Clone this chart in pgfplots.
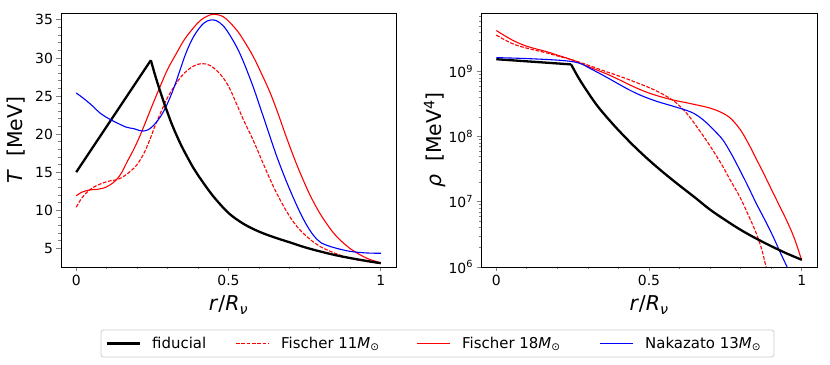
\documentclass[border=0pt]{standalone}
\usepackage{fontspec}
\setmainfont{DejaVu Sans}
\usepackage{pgfplots}
\pgfplotsset{compat=1.18}

\tikzset{
  fid/.style={color=black, line width=2.3bp},
  f11/.style={color=red, line width=1.1bp, dash pattern=on 3.7bp off 1.6bp},
  f18/.style={color=red, line width=1.1bp},
  nak/.style={color=blue, line width=1.1bp},
  legtext/.style={anchor=base west, inner sep=0pt, font=\fontsize{15}{17}\selectfont},
}
\pgfplotsset{panel/.style={
  width=335bp, height=254bp, scale only axis,
  xmin=-0.05, xmax=1.05, xtick={0,0.5,1}, minor x tick num=4,
  tick pos=left, tick align=outside,
  major tick length=4.5bp, minor tick length=2.5bp,
  every tick/.append style={line width=0.8bp},
  axis line style={line width=0.8bp},
  tick label style={font=\fontsize{14}{16}\selectfont},
  label style={font=\fontsize{20.5}{24}\selectfont},
  /pgf/number format/assume math mode=true,
  xlabel={\textit{r}/\textit{R}\textsubscript{\textit{ν}}},
  xlabel style={at={(axis description cs:0.5,-0.15)}, anchor=center},
  ylabel style={at={(axis description cs:-0.134,0.5)}, anchor=center},
}}

\begin{document}
\begin{tikzpicture}
\begin{axis}[panel, at={(61bp,98bp)}, anchor=south west,
  ymin=2.55, ymax=35.9, ytick={5,10,...,35}, minor y tick num=4,
  ylabel={\textit{T}~~[MeV]}]
  \addplot[fid] coordinates {(0,15.0)(0.245,29.7)};
  \addplot[f11, smooth, tension=0.6] coordinates {
    (0,10.4)(0.02,11.7)(0.045,12.7)(0.065,13.2)(0.089,13.6)(0.11,13.85)(0.132,14.0)
    (0.15,14.3)(0.165,14.7)(0.18,15.2)(0.198,15.9)(0.22,17.3)(0.24,19.1)(0.26,21.2)
    (0.275,22.6)(0.3,24.8)(0.329,26.7)(0.355,28.0)(0.384,28.9)(0.411,29.25)(0.44,29.0)
    (0.472,27.9)(0.5,26.3)(0.526,24.0)(0.55,21.8)(0.581,19.2)(0.61,16.5)(0.636,14.1)
    (0.66,12.1)(0.69,9.9)(0.72,8.1)(0.75,6.8)(0.78,5.8)(0.8,5.25)(0.85,4.35)(0.9,3.7)
    (0.95,3.3)(1,3.0)};
  \addplot[f18, smooth, tension=0.6] coordinates {
    (0,11.9)(0.02,12.4)(0.045,12.67)(0.07,12.75)(0.089,12.9)(0.11,13.3)(0.132,14.0)
    (0.15,15.0)(0.165,16.2)(0.185,17.7)(0.203,19.2)(0.225,21.3)(0.25,23.8)(0.275,26.2)
    (0.3,28.5)(0.329,30.6)(0.355,32.4)(0.384,33.9)(0.41,35.0)(0.444,35.7)(0.472,35.6)
    (0.493,35.1)(0.526,33.7)(0.55,32.3)(0.581,30.2)(0.61,27.8)(0.636,25.5)(0.66,23.0)
    (0.69,19.6)(0.72,16.4)(0.745,14.0)(0.77,11.8)(0.8,9.6)(0.83,7.8)(0.854,6.6)
    (0.88,5.6)(0.9,4.95)(0.93,4.2)(0.96,3.6)(1,3.1)};
  \addplot[nak, smooth, tension=0.6] coordinates {
    (0,25.4)(0.03,24.5)(0.056,23.6)(0.08,22.7)(0.11,21.95)(0.14,21.35)(0.165,20.9)
    (0.19,20.7)(0.205,20.5)(0.218,20.4)(0.235,20.55)(0.253,21.1)(0.275,22.2)(0.296,23.7)
    (0.32,26.0)(0.34,28.3)(0.36,30.6)(0.384,32.7)(0.41,34.2)(0.43,34.85)(0.444,35.0)
    (0.46,34.9)(0.472,34.6)(0.493,33.7)(0.526,31.5)(0.55,29.4)(0.581,26.2)(0.61,22.8)
    (0.636,19.7)(0.66,16.9)(0.69,13.8)(0.72,11.0)(0.745,8.9)(0.77,7.2)(0.79,6.2)
    (0.805,5.7)(0.83,5.3)(0.86,4.95)(0.9,4.6)(0.95,4.4)(1,4.35)};
  % fiducial, decaying part
  \addplot[fid, smooth, tension=0.6] coordinates {
    (0.245,29.7)(0.26,27.6)(0.275,25.7)(0.29,23.9)(0.3,22.8)(0.313,21.4)
    (0.33,19.8)(0.35,18.1)(0.384,15.6)(0.4,14.6)(0.439,12.4)(0.47,10.9)(0.504,9.5)
    (0.55,8.2)(0.6,7.2)(0.65,6.45)(0.7,5.8)(0.75,5.15)(0.8,4.6)(0.85,4.12)(0.9,3.72)
    (0.95,3.37)(1,3.05)};
\end{axis}

\begin{axis}[panel, at={(481bp,98bp)}, anchor=south west, width=336bp,
  ymode=log, ymin=1e6, ymax=7.94e9,
  ytick={1e6,1e7,1e8,1e9},
  yticklabels={10\textsuperscript{6},10\textsuperscript{7},10\textsuperscript{8},10\textsuperscript{9}},
  minor ytick={2e6,3e6,4e6,5e6,6e6,7e6,8e6,9e6,2e7,3e7,4e7,5e7,6e7,7e7,8e7,9e7,
    2e8,3e8,4e8,5e8,6e8,7e8,8e8,9e8,2e9,3e9,4e9,5e9,6e9,7e9},
  ylabel={\textit{ρ}~~[MeV\textsuperscript{4}]},
  ylabel style={at={(axis description cs:-0.137,0.5)}}]
  \addplot[fid] coordinates {(0,1.55e9)(0.245,1.29e9)};
  \addplot[f11, smooth, tension=0.6] coordinates {
    (0,3.63e9)(0.0525,2.69e9)(0.1,2.29e9)(0.162,1.95e9)(0.2,1.74e9)(0.249,1.51e9)
    (0.3,1.26e9)(0.359,1.0e9)(0.4,8.61e8)(0.435,7.5e8)(0.468,6.53e8)(0.5,5.69e8)
    (0.534,4.79e8)(0.578,3.63e8)(0.605,2.82e8)(0.632,2.04e8)(0.66,1.35e8)(0.687,8.9e7)
    (0.715,5.6e7)(0.742,3.47e7)(0.77,2.0e7)(0.797,1.2e7)(0.825,6.3e6)(0.851,3.3e6)
    (0.87,1.8e6)(0.884,9.8e5)(0.9,6e5)};
  \addplot[f18, smooth, tension=0.6] coordinates {
    (0,4.27e9)(0.0525,3.05e9)(0.1,2.45e9)(0.162,2.04e9)(0.2,1.79e9)(0.249,1.51e9)
    (0.3,1.2e9)(0.359,9.3e8)(0.4,7.6e8)(0.435,6.3e8)(0.468,5.37e8)(0.5,4.68e8)
    (0.534,4.17e8)(0.578,3.67e8)(0.63,3.27e8)(0.7,2.75e8)(0.742,2.29e8)(0.77,1.86e8)
    (0.8,1.26e8)(0.825,7.94e7)(0.85,4.68e7)(0.875,2.75e7)(0.9,1.58e7)(0.925,9.12e6)
    (0.95,5.25e6)(0.975,2.82e6)(1,1.26e6)};
  \addplot[nak, smooth, tension=0.6] coordinates {
    (0,1.64e9)(0.107,1.58e9)(0.217,1.48e9)(0.271,1.35e9)(0.31,1.1e9)(0.359,8.3e8)
    (0.4,6.46e8)(0.435,5.25e8)(0.468,4.42e8)(0.5,3.85e8)(0.534,3.39e8)(0.578,2.95e8)
    (0.632,2.45e8)(0.66,2.09e8)(0.687,1.66e8)(0.715,1.23e8)(0.742,8.9e7)(0.77,5.4e7)
    (0.797,3.1e7)(0.825,1.7e7)(0.851,9.5e6)(0.88,5.2e6)(0.906,2.95e6)(0.93,1.66e6)
    (0.953,9.8e5)(0.97,6.5e5)};
  \addplot[fid, smooth, tension=0.6] coordinates {
    (0.245,1.29e9)(0.27,7.94e8)(0.3,4.79e8)(0.33,3.02e8)(0.36,2.04e8)(0.4,1.26e8)
    (0.45,7.24e7)(0.5,4.37e7)(0.55,2.75e7)(0.6,1.78e7)(0.65,1.17e7)(0.7,7.59e6)
    (0.75,5.25e6)(0.8,3.72e6)(0.85,2.75e6)(0.9,2.09e6)(0.95,1.62e6)(1,1.29e6)};
\end{axis}

% legend below both panels: frame, then sample lines in a hidden axis in bp units
\draw[black!20, line width=0.8bp, rounded corners=2.5bp, fill=white]
  (101bp,8bp) rectangle (774bp,35bp);
\begin{axis}[at={(0bp,0bp)}, anchor=south west, width=830bp, height=365bp,
  scale only axis, hide axis, clip=false, xmin=0, xmax=830, ymin=0, ymax=365]
  \addplot[fid] coordinates {(107,21.5)(140,21.5)};
  \addplot[f11] coordinates {(236,21.5)(269,21.5)};
  \addplot[f18] coordinates {(417,21.5)(450,21.5)};
  \addplot[nak] coordinates {(600,21.5)(633,21.5)};
\end{axis}
\node[legtext] at (152bp,16.3bp) {fiducial};
\node[legtext] at (281bp,16.3bp) {Fischer 11\textit{M}\textsubscript{⊙}};
\node[legtext] at (462bp,16.3bp) {Fischer 18\textit{M}\textsubscript{⊙}};
\node[legtext] at (645bp,16.3bp) {Nakazato 13\textit{M}\textsubscript{⊙}};

\pgfresetboundingbox
\path[use as bounding box] (0,0) rectangle (830bp,365bp);
\end{tikzpicture}
\end{document}
